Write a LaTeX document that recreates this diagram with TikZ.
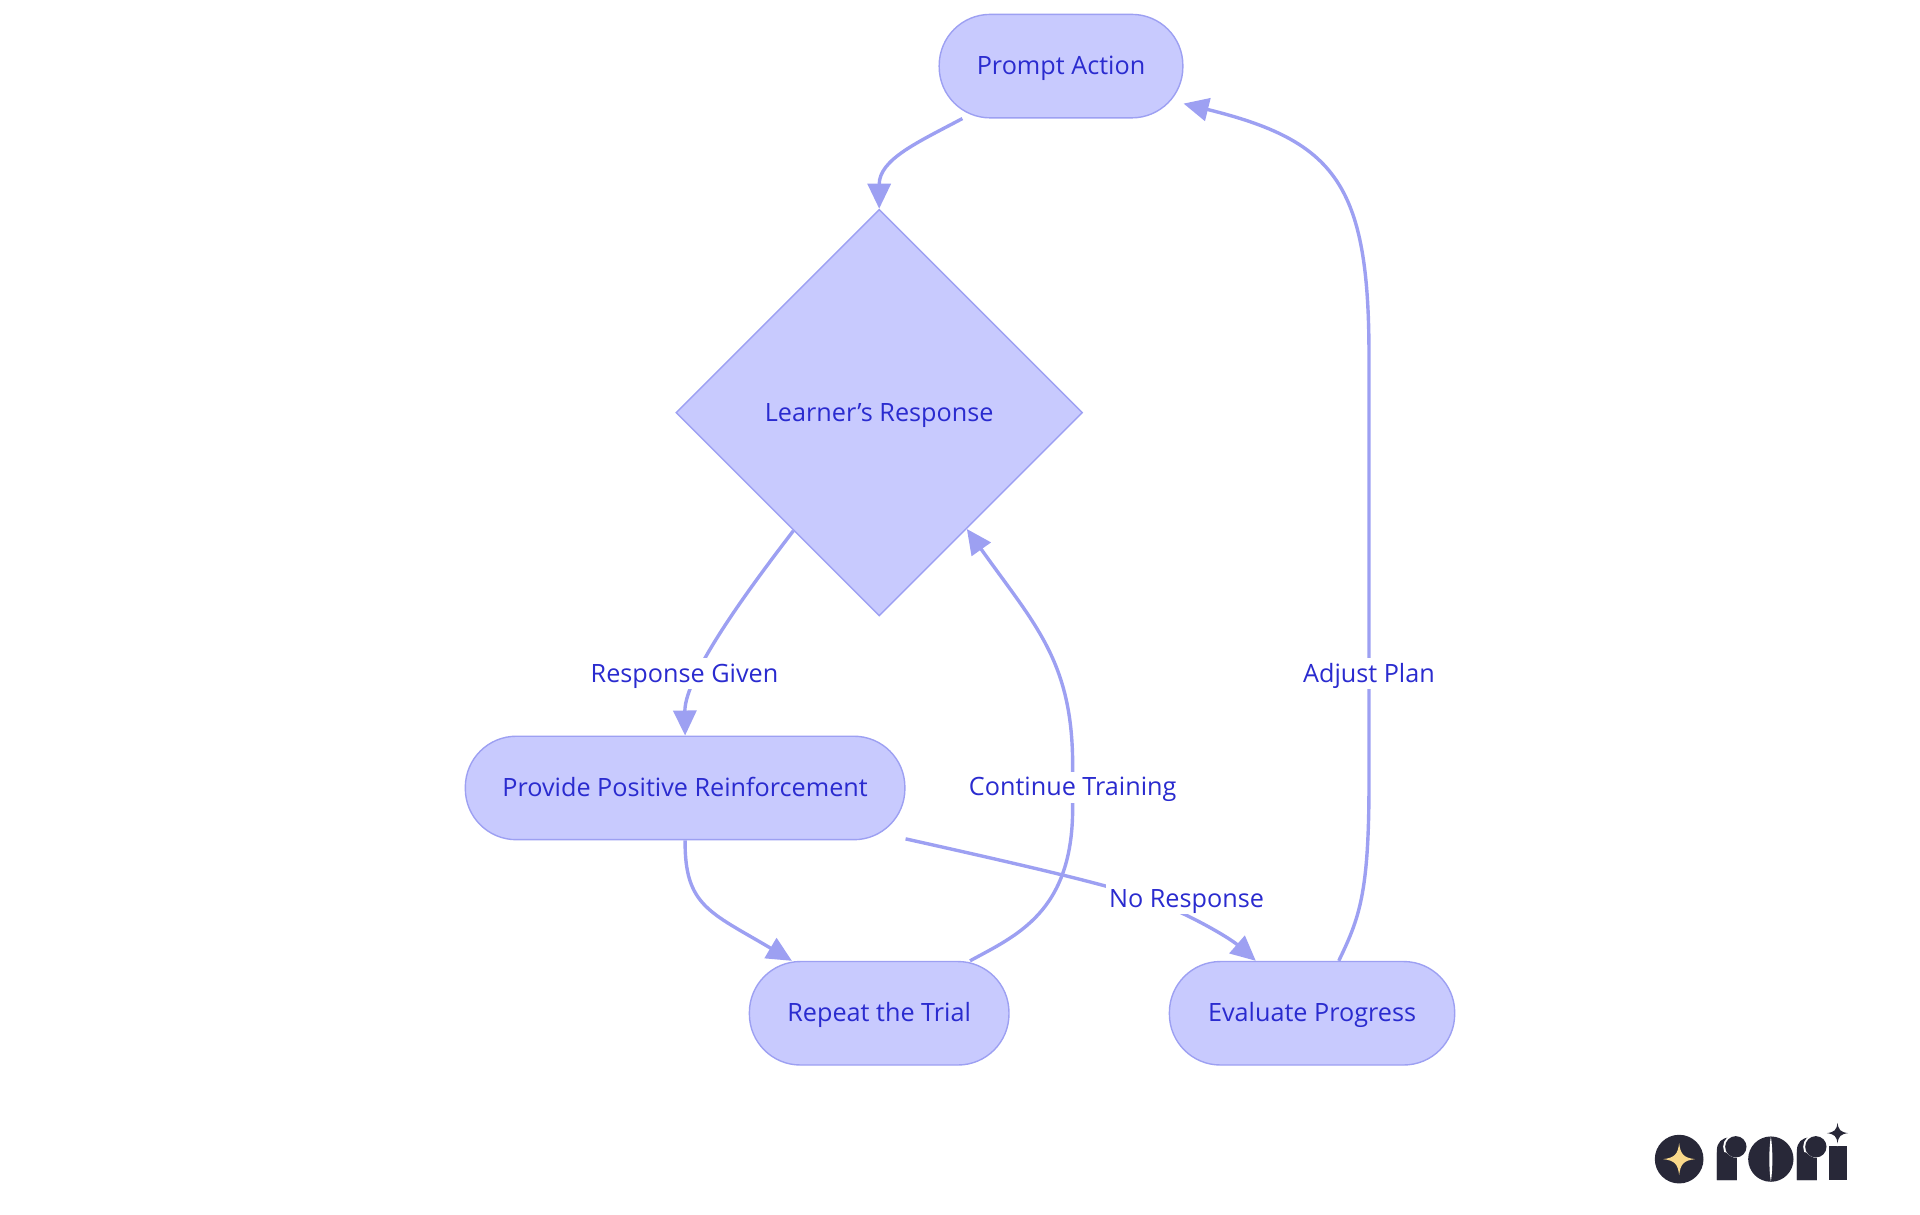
\documentclass[tikz,border=0pt]{standalone}
\usepackage{fontspec}
\setmainfont{Open Sans}
\usetikzlibrary{shapes.geometric,arrows.meta}
\definecolor{nfill}{HTML}{C8CAFE}
\definecolor{nline}{HTML}{9DA0F2}
\definecolor{ntext}{HTML}{2A2BCF}
\definecolor{logodark}{HTML}{282838}
\definecolor{logostar}{HTML}{F9D88A}
\def\un{0.6122}
\tikzset{
  base/.style={fill=nfill,draw=nline,line width=0.7pt,text=ntext,inner sep=0pt,font=\fontsize{12.6}{14}\selectfont,text height=10.4pt,text depth=1.8pt},
  pill/.style={base,rectangle,rounded corners=25.5pt,minimum height=84.5*\un pt},
  decision/.style={base,diamond,aspect=1,minimum width=332*\un pt,minimum height=332*\un pt},
  link/.style={draw=nline,line width=1.7pt,-{Triangle[length=12.5pt,width=11.5pt]}},
  linklabel/.style={fill=white,text=ntext,inner sep=1.5pt,font=\fontsize{12.6}{14}\selectfont,text height=10.4pt,text depth=1.8pt}
}
\begin{document}
\begin{tikzpicture}[x=0.6122pt,y=-0.6122pt]
\useasboundingbox (0,0) rectangle (1568,992.2);
\node[pill,minimum width=199*\un pt] (prompt) at (866.5,54) {Prompt Action};
\node[decision] (resp) at (718,337) {Learner’s Response};
\node[pill,minimum width=359*\un pt] (reinf) at (559.5,643.5) {Provide Positive Reinforcement};
\node[pill,minimum width=212*\un pt] (repeat) at (718,827.5) {Repeat the Trial};
\node[pill,minimum width=233*\un pt] (eval) at (1071.5,827.5) {Evaluate Progress};
\draw[link] (prompt.208) .. controls (750,116) and (718,130) .. (resp.north);
\draw[link] (resp.234) .. controls (620,470) and (559,550) .. (reinf.north);
\draw[link] (reinf.south) .. controls (559,740) and (580,745) .. (repeat.149.8);
\draw[link] (reinf.-13.2) .. controls (820,703) and (890,719) .. (925,730) .. controls (960,740) and (1003,765) .. (eval.137.6);
\draw[link] (repeat.30.2) .. controls (830,764) and (876,745) .. (876,660) -- (876,625) .. controls (876,540) and (845,510) .. (resp.-53.5);
\draw[link] (eval.63) .. controls (1110,750) and (1118,730) .. (1118,640) -- (1118,290) .. controls (1118,150) and (1090,115) .. (prompt.-17.1);
\node[linklabel] (l1) at (559,550) {Response Given};
\node[linklabel] (l2) at (876,643) {Continue Training};
\node[linklabel] (l3) at (969,734) {No Response};
\node[linklabel] (l4) at (1118,550) {Adjust Plan};
% logo
\begin{scope}[shift={(1323.1,897.6)},x=0.1667pt,y=-0.1667pt]
\fill[logodark] (177,180) circle (73);
\fill[logostar] (177,132) .. controls (181,165) and (190,176) .. (225,180) .. controls (190,184) and (181,195) .. (177,228) .. controls (173,195) and (164,184) .. (129,180) .. controls (164,176) and (173,165) .. (177,132) -- cycle;
\fill[logodark] (290,243) -- (290,155) .. controls (290,130) and (305,115) .. (330,115) -- (350,115) -- (350,243) -- cycle;
\fill[white] (347,143) circle (38);
\fill[logodark] (347,143) circle (32);
\fill[logodark] (290,243) -- (290,160) -- (318,160) .. controls (326,170) and (340,178) .. (350,176) -- (350,243) -- cycle;
\fill[logodark] (452,180) circle (68);
\fill[white] (452,112) .. controls (446,150) and (446,210) .. (452,248) .. controls (458,210) and (458,150) .. (452,112) -- cycle;
\fill[logodark] (530,243) -- (530,155) .. controls (530,130) and (545,115) .. (570,115) -- (590,115) -- (590,243) -- cycle;
\fill[white] (587,143) circle (38);
\fill[logodark] (587,143) circle (32);
\fill[logodark] (530,243) -- (530,160) -- (558,160) .. controls (566,170) and (580,178) .. (590,176) -- (590,243) -- cycle;
\fill[logodark] (627,243) -- (627,140) -- (680,140) -- (680,243) -- cycle;
\fill[white] (652,102) circle (39);
\fill[logodark] (652,71) .. controls (655,93) and (661,99) .. (684,102) .. controls (661,105) and (655,111) .. (652,133) .. controls (649,111) and (643,105) .. (620,102) .. controls (643,99) and (649,93) .. (652,71) -- cycle;
\end{scope}
\end{tikzpicture}
\end{document}
